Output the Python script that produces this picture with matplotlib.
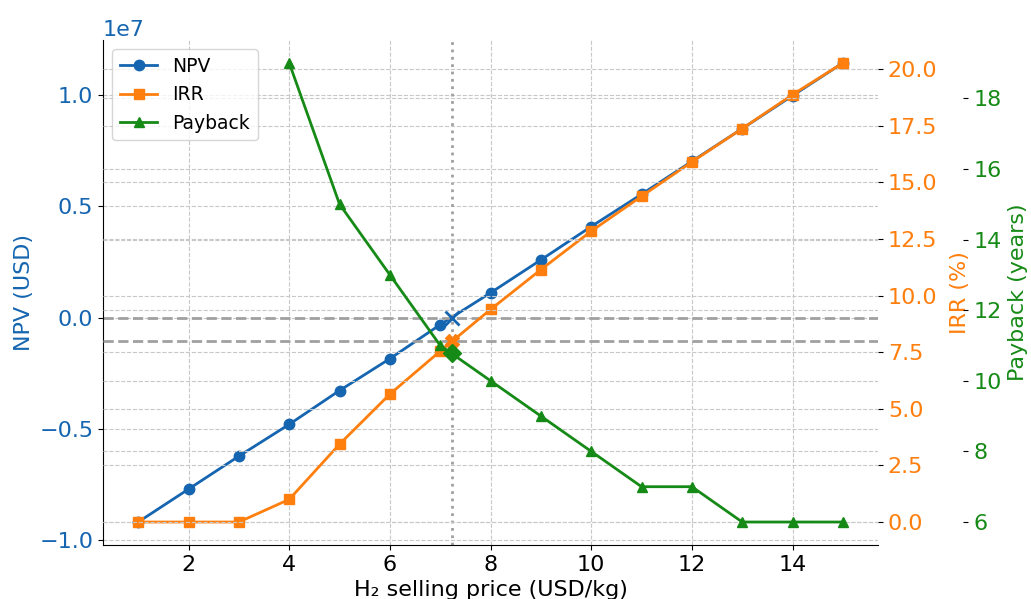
import numpy as np
import matplotlib
matplotlib.use("Agg")
import matplotlib.pyplot as plt

# H2 selling price sweep (USD/kg)
price = [1, 2, 3, 4, 5, 6, 7, 8, 9, 10, 11, 12, 13, 14, 15]
npv = [-9.18e6, -7.70e6, -6.22e6, -4.79e6, -3.27e6, -1.84e6, -0.31e6, 1.12e6,
       2.60e6, 4.10e6, 5.55e6, 7.03e6, 8.50e6, 9.98e6, 11.45e6]
irr = [0.0, 0.0, 0.0, 1.0, 3.44, 5.65, 7.55, 9.39, 11.15, 12.85, 14.39,
       15.91, 17.38, 18.88, 20.28]
payback = [np.nan, np.nan, np.nan, 19, 15, 13, 11, 10, 9, 8, 7, 7, 6, 6, 6]

# break-even point
be_price = 7.24
irr_hurdle = 8.0
pb_at_be = 10.78

c_npv = '#1565b0'
c_irr = '#ff7f0e'
c_pb = '#168a16'
fs = 16
fs_leg = 13.5

plt.rcParams['font.size'] = fs

fig = plt.figure(figsize=(10.31, 5.99), dpi=100)
ax1 = fig.add_axes([0.0999, 0.0902, 0.7518, 0.843])
ax2 = ax1.twinx()
ax3 = ax1.twinx()
ax3.spines['right'].set_position(('axes', 1.11))

for ax in (ax1, ax2, ax3):
    ax.grid(True, linestyle='--', color='#c8c8c8', linewidth=0.8)
    ax.spines['top'].set_visible(False)
    ax.spines['right'].set_visible(False)
ax2.spines['left'].set_visible(False)
ax3.spines['left'].set_visible(False)
ax2.spines['bottom'].set_visible(False)
ax3.spines['bottom'].set_visible(False)

l1, = ax1.plot(price, npv, 'o-', color=c_npv, lw=2, ms=7.5, label='NPV')
l2, = ax2.plot(price, irr, 's-', color=c_irr, lw=2, ms=7.5, label='IRR')
l3, = ax3.plot(price, payback, '^-', color=c_pb, lw=2, ms=7.5, label='Payback')

ax1.axhline(0, color='#a0a0a0', linestyle='--', lw=2)
ax2.axhline(irr_hurdle, color='#a0a0a0', linestyle='--', lw=2)
ax1.axvline(be_price, color='#a0a0a0', linestyle=':', lw=2)

ax1.plot(be_price, 0, 'x', color=c_npv, ms=10, mew=2)
ax2.plot(be_price, irr_hurdle, 'X', color=c_irr, ms=10)
ax3.plot(be_price, pb_at_be, 'D', color=c_pb, ms=9)

ax1.set_xlabel('H₂ selling price (USD/kg)', fontsize=fs)
ax1.set_ylabel('NPV (USD)', color=c_npv, fontsize=fs)
ax2.set_ylabel('IRR (%)', color=c_irr, fontsize=fs, labelpad=9)
ax3.set_ylabel('Payback (years)', color=c_pb, fontsize=fs, labelpad=5)

ax1.tick_params(axis='y', labelcolor=c_npv, labelsize=fs)
ax1.tick_params(axis='x', labelsize=fs)
ax2.tick_params(axis='y', labelcolor=c_irr, labelsize=fs)
ax3.tick_params(axis='y', labelcolor=c_pb, labelsize=fs)
ax1.yaxis.get_offset_text().set_color(c_npv)
ax1.yaxis.get_offset_text().set_fontsize(fs)

ax3.legend([l1, l2, l3], ['NPV', 'IRR', 'Payback'], loc='upper left', fontsize=fs_leg)

fig.savefig('out.png', dpi=100)
